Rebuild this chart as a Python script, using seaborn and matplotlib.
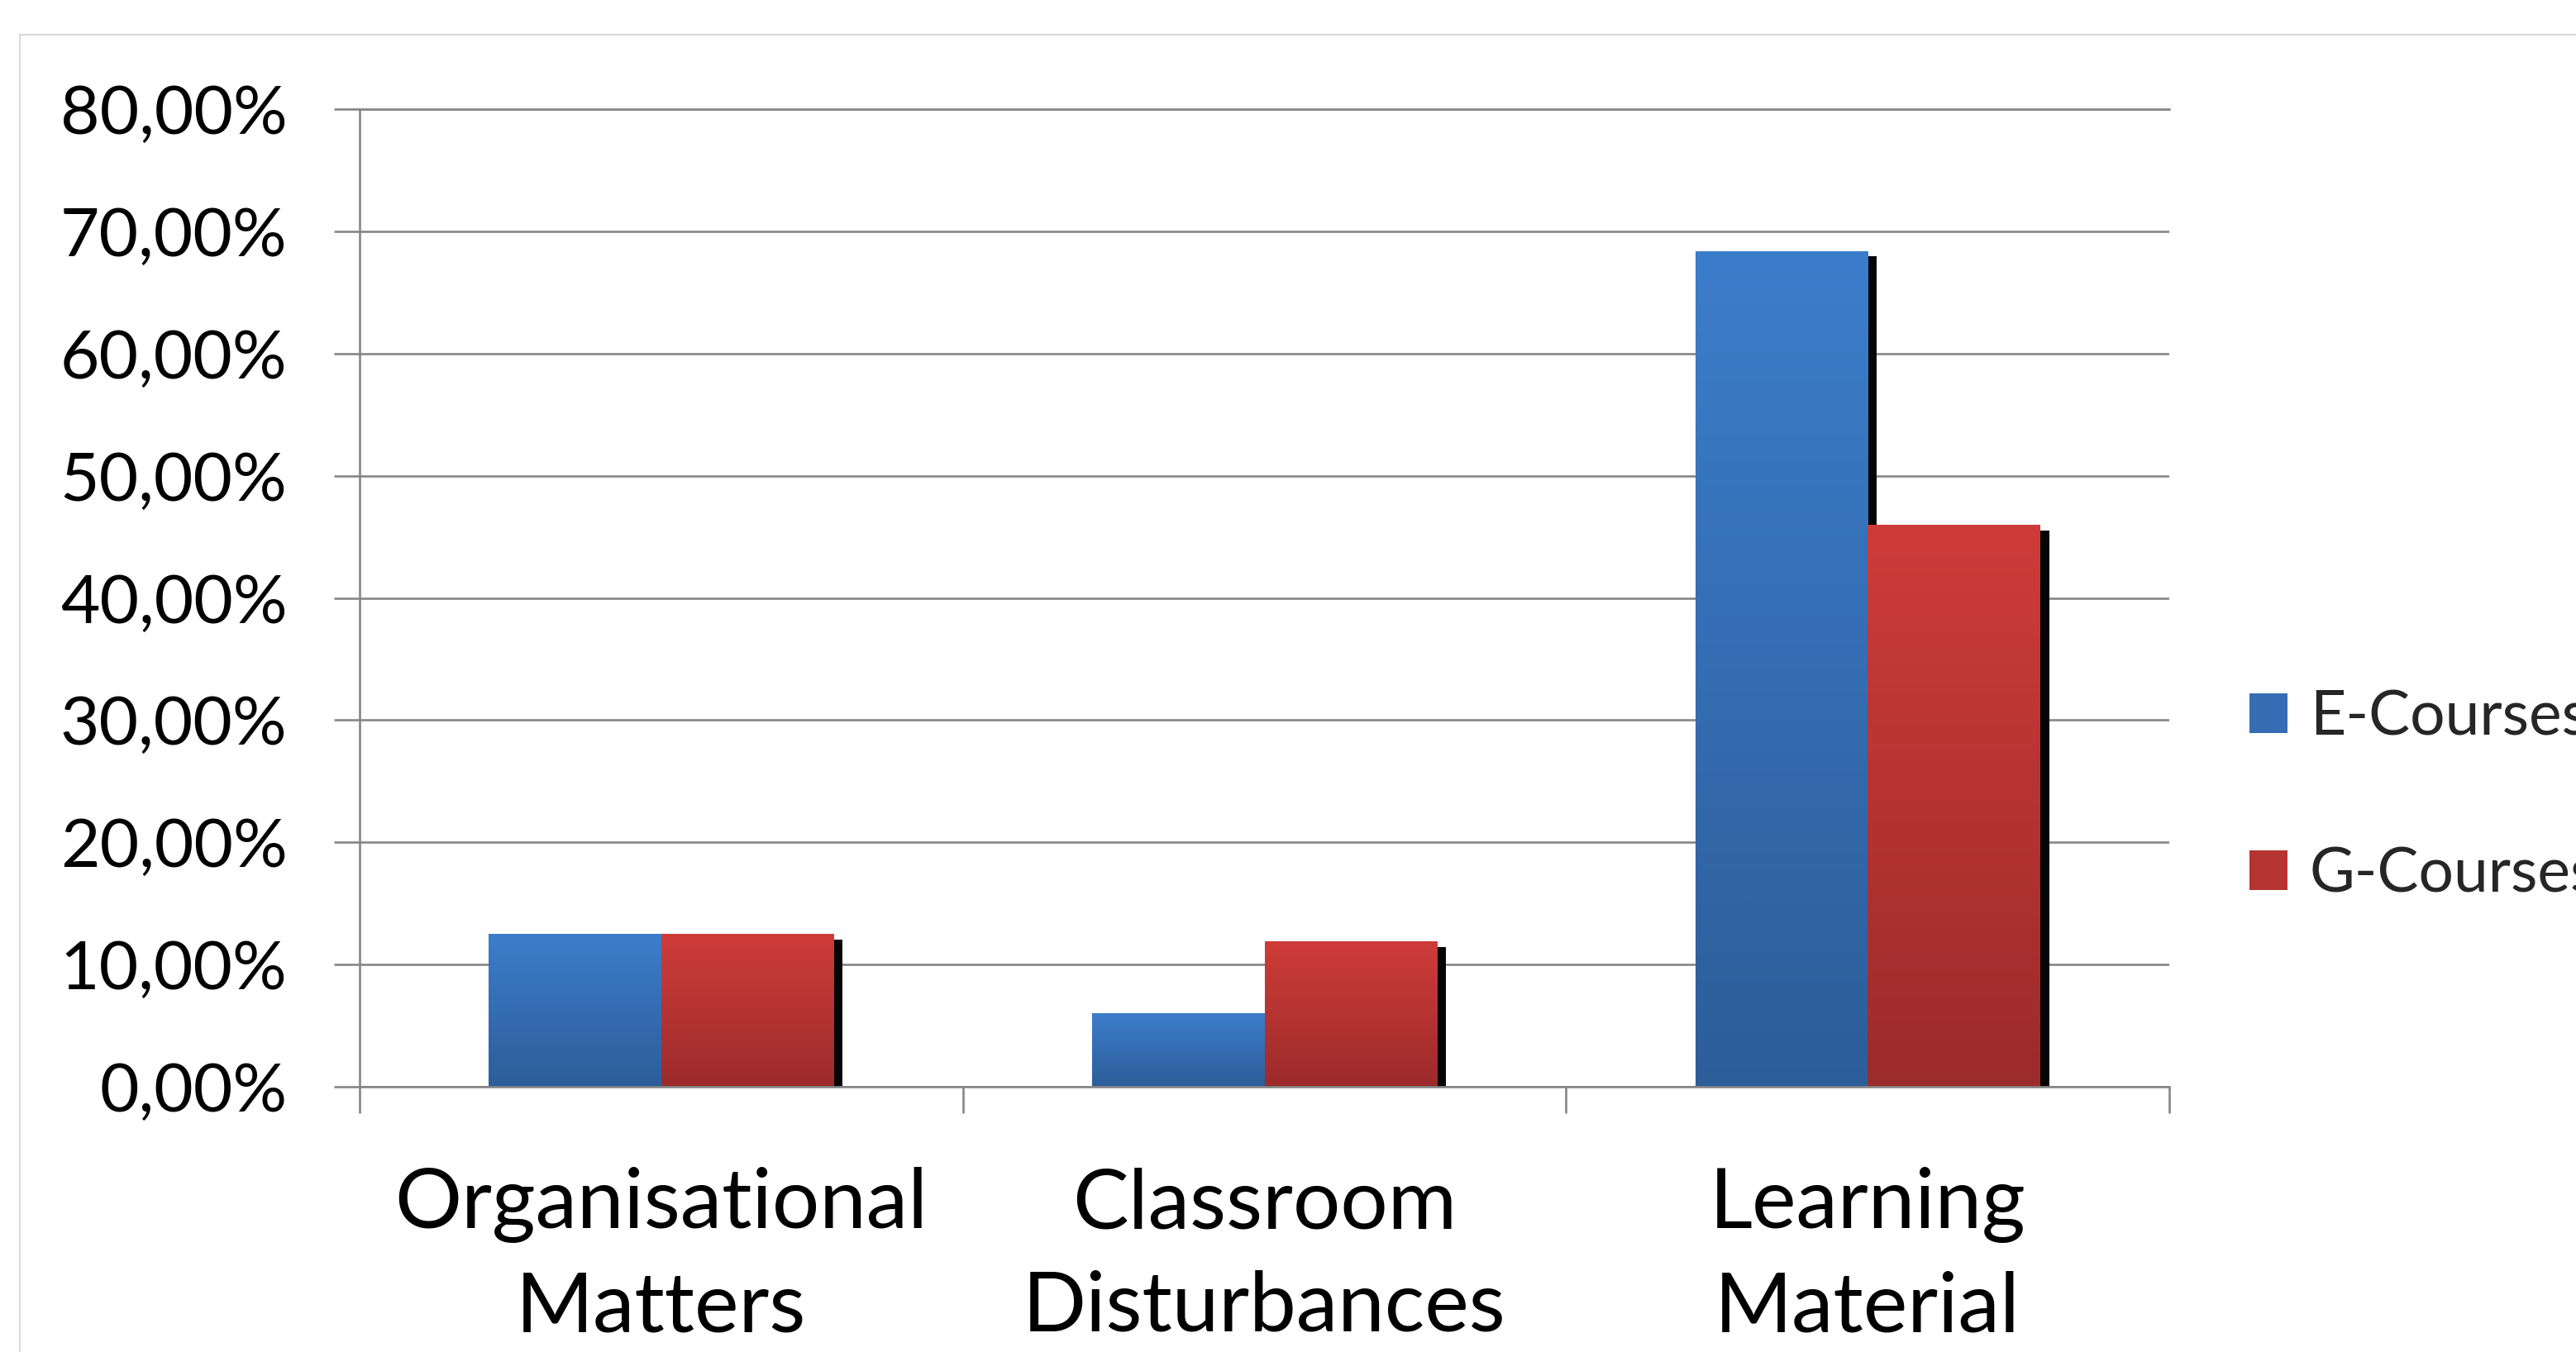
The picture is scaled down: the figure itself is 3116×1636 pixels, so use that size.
import numpy as np
import pandas as pd
import matplotlib
matplotlib.use("Agg")
import matplotlib.pyplot as plt
import seaborn as sns
from matplotlib import patheffects as pe
from matplotlib.patches import Rectangle, Patch
from matplotlib.colors import to_rgb
from matplotlib.ticker import FuncFormatter

# ---------------- data ----------------
categories = ["Organisational\nMatters", "Classroom\nDisturbances", "Learning\nMaterial"]
series = ["E-Courses", "G-Courses"]
e_courses = [12.5, 6.0, 68.4]
g_courses = [12.5, 11.9, 46.0]
y_ticks = [0, 10, 20, 30, 40, 50, 60, 70, 80]

# ---------------- style ----------------
sns.set_theme(style="white")
plt.rcParams['font.family'] = ['Lato', 'DejaVu Sans']

top_cols = ["#3C7DCB", "#CE3C39"]
bot_cols = ["#2D5D99", "#9C2B2B"]
grid_col = "#868686"

W, H = 3116, 1636
fig = plt.figure(figsize=(W / 100, H / 100), dpi=100)
ax = fig.add_axes([435 / W, 1 - 1315 / H, (2624 - 435) / W, (1315 - 132) / H])

df = pd.DataFrame({
    "category": categories * 2,
    "value": e_courses + g_courses,
    "series": [series[0]] * len(categories) + [series[1]] * len(categories),
})

sns.barplot(data=df, x="category", y="value", hue="series", palette=top_cols,
            width=2 / 3.5, gap=0, saturation=1, errorbar=None, legend=False,
            linewidth=0, ax=ax, zorder=2)

# gradients + shadows
for ci, cont in enumerate(ax.containers):
    c_top = np.array(to_rgb(top_cols[ci]))
    c_bot = np.array(to_rgb(bot_cols[ci]))
    grad = np.linspace(0, 1, 256)[:, None, None]
    img = c_top[None, None, :] * (1 - grad) + c_bot[None, None, :] * grad
    for bar in cont:
        bar.set_path_effects([pe.SimplePatchShadow(offset=(7.9, -5.0), shadow_rgbFace="#050505", alpha=1.0),
                              pe.Normal()])
        x0, y0 = bar.get_x(), bar.get_y()
        w, h = bar.get_width(), bar.get_height()
        im = ax.imshow(img, extent=[x0, x0 + w, y0, y0 + h], origin="upper",
                       aspect="auto", interpolation="bilinear", zorder=2.2)
        im.set_clip_path(bar)

ax.set_xlim(-0.5, len(categories) - 0.5)
ax.set_ylim(0, 80)

# y axis
ax.set_yticks(y_ticks)
ax.yaxis.set_major_formatter(FuncFormatter(lambda v, p: f"{v:.2f}%".replace(".", ",")))
ax.yaxis.grid(True, color=grid_col, linewidth=1.9)
ax.set_axisbelow(True)
ax.tick_params(axis="y", left=True, length=22, width=1.9, color=grid_col, pad=41,
               labelsize=59, labelcolor="black", direction="out")

# x axis
ax.set_xticks(range(len(categories)))
ax.set_xticklabels(categories, fontsize=73, linespacing=1.45)
ax.set_xticks([i - 0.5 for i in range(len(categories) + 1)], minor=True)
ax.tick_params(axis="x", which="major", length=0, pad=70, labelcolor="black")
ax.tick_params(axis="x", which="minor", bottom=True, length=23, width=1.9,
               color=grid_col, direction="out")
ax.set_xlabel("")
ax.set_ylabel("")

for side in ["left", "bottom", "top"]:
    ax.spines[side].set_visible(True)
    ax.spines[side].set_color(grid_col)
    ax.spines[side].set_linewidth(1.9)
    ax.spines[side].set_zorder(3)
ax.spines["right"].set_visible(False)

# legend
handles = [Patch(facecolor=(np.array(to_rgb(top_cols[i])) + np.array(to_rgb(bot_cols[i]))) / 2,
                 edgecolor="none") for i in range(2)]
fig.legend(handles, series, loc="upper left", bbox_to_anchor=(2721 / W, 1 - 833 / H),
           frameon=False, fontsize=54, handlelength=0.61, handleheight=0.61,
           handletextpad=0.36, labelspacing=1.62, borderaxespad=0, borderpad=0)

# outer chart border
fig.patches.append(Rectangle((24 / W, -0.1), 2.0, 1.1 - 42 / H, transform=fig.transFigure,
                             fill=False, edgecolor="#D9D9D9", linewidth=1.5))

fig.savefig("out.png", dpi=100)
